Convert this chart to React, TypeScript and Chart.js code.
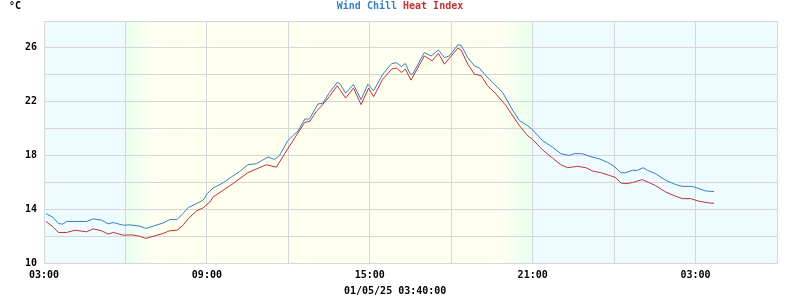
import React, { useEffect, useRef } from "react";
import { Chart, registerables } from "chart.js";

Chart.register(...registerables);

// hours elapsed since 01/04/25 03:00
const windChillHours = [0.07,0.34,0.53,0.69,0.83,1.57,1.81,2.12,2.36,2.55,2.92,3.16,3.53,3.75,4.02,4.39,4.63,4.9,5.12,5.31,5.62,5.86,6.01,6.23,6.59,6.9,7.21,7.51,7.82,8.25,8.5,8.68,8.98,9.35,9.6,9.78,10.09,10.27,10.52,10.8,10.91,11.11,11.4,11.68,11.93,12.14,12.48,12.81,12.99,13.16,13.31,13.49,13.58,14.01,14.26,14.53,14.75,14.93,15.24,15.36,15.61,15.85,16.04,16.22,16.52,16.89,17.26,17.51,17.81,18.0,18.36,18.73,19.04,19.35,19.53,19.83,20.08,20.45,20.75,21.0,21.25,21.4,21.67,21.86,22.07,22.23,22.53,22.9,23.27,23.51,23.88,24.13,24.37,24.68];
const windChillValues = [13.68,13.38,12.94,12.89,13.09,13.09,13.28,13.19,12.91,13.01,12.81,12.84,12.74,12.57,12.74,12.98,13.23,13.23,13.68,14.12,14.42,14.67,15.16,15.58,15.95,16.4,16.81,17.31,17.38,17.88,17.7,18.0,19.11,19.8,20.69,20.72,21.83,21.88,22.69,23.43,23.3,22.64,23.28,22.15,23.3,22.81,24.05,24.84,24.9,24.6,24.84,24.05,24.05,25.65,25.4,25.85,25.28,25.4,26.22,26.2,25.28,24.67,24.5,24.05,23.43,22.69,21.38,20.6,20.22,19.9,19.11,18.62,18.13,18.0,18.13,18.13,17.95,17.75,17.5,17.19,16.72,16.7,16.89,16.89,17.09,16.89,16.64,16.15,15.83,15.7,15.7,15.53,15.36,15.31];

const heatIndexHours = [0.07,0.33,0.53,0.83,1.14,1.57,1.81,2.12,2.36,2.55,2.92,3.27,3.53,3.75,4.02,4.39,4.63,4.9,5.12,5.31,5.62,5.86,6.11,6.23,6.96,7.51,8.19,8.56,8.98,9.6,9.8,10.02,10.2,10.52,10.8,11.11,11.4,11.68,11.96,12.14,12.48,12.81,12.99,13.16,13.31,13.52,14.01,14.3,14.53,14.75,15.24,15.36,15.61,15.85,16.1,16.34,16.65,17.02,17.51,17.81,18.0,18.36,18.73,19.04,19.28,19.65,19.96,20.2,20.51,20.82,21.06,21.25,21.43,21.67,21.82,22.04,22.29,22.53,22.9,23.27,23.51,23.82,24.13,24.49,24.68];
const heatIndexValues = [13.09,12.7,12.27,12.27,12.44,12.32,12.54,12.4,12.15,12.27,12.07,12.09,11.98,11.83,11.98,12.2,12.4,12.44,12.8,13.3,13.88,14.1,14.54,14.91,15.9,16.72,17.31,17.13,18.5,20.45,20.55,21.25,21.63,22.4,23.19,22.27,23.01,21.78,23.01,22.37,23.68,24.42,24.5,24.17,24.42,23.6,25.4,25.04,25.6,24.79,25.98,25.85,24.79,24.05,23.93,23.19,22.57,21.7,20.22,19.48,19.19,18.42,17.8,17.31,17.09,17.19,17.09,16.84,16.72,16.52,16.35,15.95,15.9,15.98,16.07,16.2,15.98,15.75,15.28,14.96,14.79,14.79,14.59,14.47,14.44];

const yTickLabels = [10, 14, 18, 22, 26];
const xLabelHours = [0, 6, 12, 18, 24];
const seriesNames = ["Wind Chill", "Heat Index"];
const unitLabel = "°C";
const stampLabel = "01/05/25 03:40:00";
// day/night shading, hours since 03:00
const dawnStart = 3.0;
const dawnEnd = 4.1;
const duskStart = 16.8;
const duskEnd = 18.0;

const BLUE = "#3a7ec0";
const RED = "#be3438";
const NIGHT = "#effcff";
const DAY = "#fffff0";
const TWILIGHT = "#e8fff0";
const GRID = "#d6d6d6";
const FONT = "bold 10px 'DejaVu Sans Mono', monospace";

const shadePlugin = {
  id: "shade",
  beforeDraw(chart: any) {
    const { ctx, chartArea: a, scales } = chart;
    const x = scales.x;
    const px = (h: number) => x.getPixelForValue(h);
    ctx.save();
    ctx.fillStyle = NIGHT;
    ctx.fillRect(a.left, a.top, a.right - a.left, a.bottom - a.top);
    const d0 = px(dawnStart), d1 = px(dawnEnd), s0 = px(duskStart), s1 = px(duskEnd);
    let g = ctx.createLinearGradient(d0, 0, d1, 0);
    g.addColorStop(0, TWILIGHT);
    g.addColorStop(1, DAY);
    ctx.fillStyle = g;
    ctx.fillRect(d0, a.top, d1 - d0, a.bottom - a.top);
    ctx.fillStyle = DAY;
    ctx.fillRect(d1, a.top, s0 - d1, a.bottom - a.top);
    g = ctx.createLinearGradient(s0, 0, s1, 0);
    g.addColorStop(0, DAY);
    g.addColorStop(1, TWILIGHT);
    ctx.fillStyle = g;
    ctx.fillRect(s0, a.top, s1 - s0, a.bottom - a.top);
    ctx.restore();
  },
};

const textPlugin = {
  id: "texts",
  afterDraw(chart: any) {
    const { ctx } = chart;
    ctx.save();
    ctx.font = FONT;
    ctx.textBaseline = "middle";
    ctx.textAlign = "left";
    ctx.fillStyle = "#000";
    ctx.fillText(unitLabel, 9, 6);
    const t1 = seriesNames[0];
    const t2 = seriesNames[1];
    const w1 = ctx.measureText(t1 + " ").width;
    const w2 = ctx.measureText(t2).width;
    const start = 400 - (w1 + w2) / 2;
    ctx.fillStyle = BLUE;
    ctx.fillText(t1, start, 6);
    ctx.fillStyle = RED;
    ctx.fillText(t2, start + w1, 6);
    ctx.fillStyle = "#000";
    ctx.fillText(stampLabel, 344, 291);
    ctx.restore();
  },
};

const pad2 = (n: number) => (n < 10 ? "0" : "") + n;

export default function App() {
  const ref = useRef<HTMLCanvasElement | null>(null);
  useEffect(() => {
    if (!ref.current) return;
    const chart = new Chart(ref.current, {
      type: "line",
      data: {
        datasets: [
          {
            label: seriesNames[0],
            data: windChillHours.map((h, i) => ({ x: h, y: windChillValues[i] })),
            borderColor: BLUE,
            borderWidth: 1,
            pointRadius: 0,
            tension: 0,
            fill: false,
          },
          {
            label: seriesNames[1],
            data: heatIndexHours.map((h, i) => ({ x: h, y: heatIndexValues[i] })),
            borderColor: RED,
            borderWidth: 1,
            pointRadius: 0,
            tension: 0,
            fill: false,
          },
        ],
      },
      options: {
        animation: false,
        responsive: false,
        maintainAspectRatio: false,
        layout: { padding: { left: 0, top: 21, right: 23, bottom: 0 } },
        plugins: { legend: { display: false }, tooltip: { enabled: false }, title: { display: false } },
        scales: {
          x: {
            type: "linear",
            min: 0,
            max: 27,
            afterFit: (s: any) => { s.height = 37; },
            grid: { color: GRID, drawTicks: false, lineWidth: 1 },
            border: { color: GRID },
            ticks: {
              stepSize: 3,
              autoSkip: false,
              maxRotation: 0,
              padding: 6,
              color: "#000",
              font: { family: "'DejaVu Sans Mono', monospace", size: 10, weight: "bold" },
              callback: (v: any) => (xLabelHours.includes(Number(v)) ? pad2((3 + Number(v)) % 24) + ":00" : ""),
            },
          },
          y: {
            min: 10,
            max: 28,
            afterFit: (s: any) => { s.width = 44; },
            grid: { color: GRID, drawTicks: false, lineWidth: 1 },
            border: { color: GRID },
            ticks: {
              stepSize: 2,
              padding: 7,
              color: "#000",
              font: { family: "'DejaVu Sans Mono', monospace", size: 10, weight: "bold" },
              callback: (v: any) => (yTickLabels.includes(Number(v)) ? String(v) : ""),
            },
          },
        },
      },
      plugins: [shadePlugin, textPlugin],
    } as any);
    return () => chart.destroy();
  }, []);
  return (
    <div style={{ position: "absolute", left: 0, top: 0, width: 800, height: 300, background: "#fff" }}>
      <canvas ref={ref} width={800} height={300} style={{ width: 800, height: 300, display: "block" }} />
    </div>
  );
}
